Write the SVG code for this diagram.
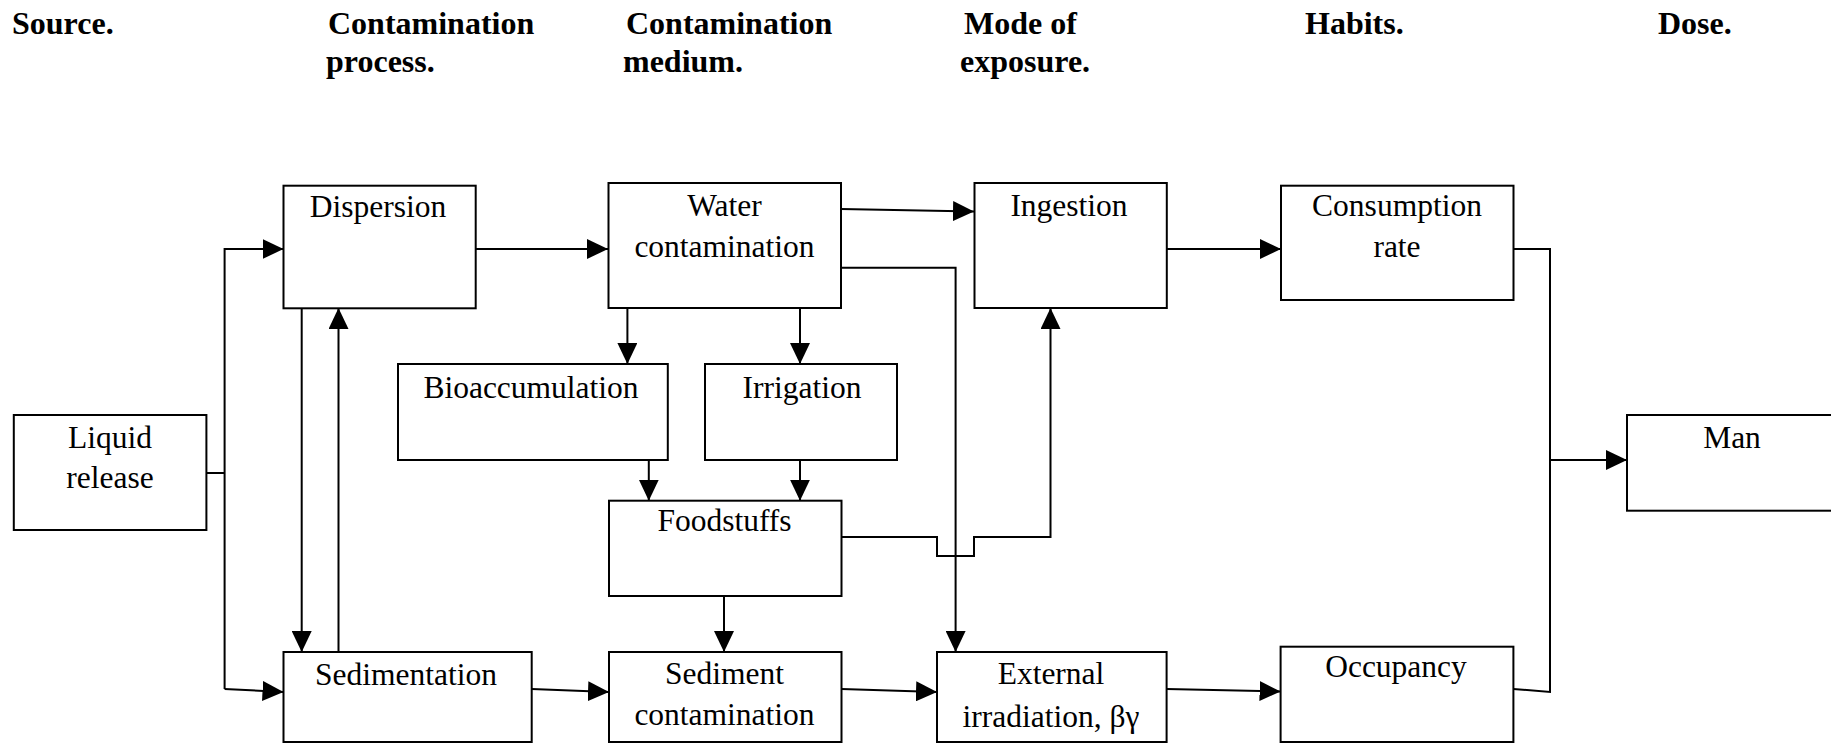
<svg xmlns="http://www.w3.org/2000/svg" width="1831" height="743" viewBox="0 0 1831 743">
<style>
.box{fill:#fff;stroke:#000;stroke-width:2}
.t{font-family:"Liberation Serif","Times New Roman",serif;font-size:31.5px;fill:#000;text-anchor:middle}
.h{font-family:"Liberation Serif","Times New Roman",serif;font-size:32px;font-weight:bold;fill:#000}
.c{fill:none;stroke:#000;stroke-width:2}
.a{marker-end:url(#ah)}
</style>
<defs>
<marker id="ah" markerUnits="userSpaceOnUse" markerWidth="21" markerHeight="20" refX="21" refY="10" orient="auto">
<path d="M0,0 L21,10 L0,20 z" fill="#000"/>
</marker>
</defs>
<rect width="1831" height="743" fill="#fff"/>
<g id="headers">
<text class="h" x="12" y="34">Source.</text>
<text class="h" x="328" y="34">Contamination</text>
<text class="h" x="326" y="72">process.</text>
<text class="h" x="626" y="34">Contamination</text>
<text class="h" x="623" y="72">medium.</text>
<text class="h" x="964" y="34">Mode of</text>
<text class="h" x="960" y="72">exposure.</text>
<text class="h" x="1305" y="34">Habits.</text>
<text class="h" x="1658" y="34">Dose.</text>
</g>
<g id="connectors">
<polyline class="c" points="206,473 224.6,473"/>
<polyline class="c a" points="224.6,689 224.6,249 283.5,249"/>
<polyline class="c a" points="224.6,689 283.5,692"/>
<polyline class="c a" points="475.7,249 608,249"/>
<polyline class="c a" points="301.7,305 301.7,652"/>
<polyline class="c a" points="338.5,652 338.5,308"/>
<polyline class="c a" points="841,209 974,211.5"/>
<polyline class="c a" points="841,267.7 955.6,267.7 955.6,652"/>
<polyline class="c a" points="627.4,305 627.4,364"/>
<polyline class="c a" points="800,305 800,364"/>
<polyline class="c a" points="648.8,460 648.8,500.7"/>
<polyline class="c a" points="800,460 800,500.7"/>
<polyline class="c a" points="841,537 937,537 937,556 974,556 974,537 1050.5,537 1050.5,308"/>
<polyline class="c a" points="724,593 724,652"/>
<polyline class="c a" points="531.7,689 609,692"/>
<polyline class="c a" points="841.5,689 937,692"/>
<polyline class="c a" points="1166.6,689 1280.6,691.5"/>
<polyline class="c a" points="1166.8,249 1281,249"/>
<polyline class="c" points="1513.5,249 1550,249 1550,692 1513.4,689"/>
<polyline class="c a" points="1550,460 1627,460"/>
</g>
<g id="liquid-release">
<rect class="box" x="13.8" y="415" width="192.6" height="115"/>
<text class="t" x="110" y="448">Liquid</text>
<text class="t" x="110" y="488">release</text>
</g>
<g id="dispersion">
<rect class="box" x="283.5" y="185.7" width="192.2" height="122.6"/>
<text class="t" x="378" y="216.7">Dispersion</text>
</g>
<g id="water-contamination">
<rect class="box" x="608.5" y="183" width="232.5" height="125"/>
<text class="t" x="724.5" y="215.7">Water</text>
<text class="t" x="724.5" y="256.7">contamination</text>
</g>
<g id="ingestion">
<rect class="box" x="974.5" y="183" width="192.3" height="125"/>
<text class="t" x="1069" y="215.7">Ingestion</text>
</g>
<g id="consumption-rate">
<rect class="box" x="1281" y="185.7" width="232.5" height="114.3"/>
<text class="t" x="1397" y="215.7">Consumption</text>
<text class="t" x="1397" y="256.7">rate</text>
</g>
<g id="bioaccumulation">
<rect class="box" x="398" y="364" width="269.8" height="96"/>
<text class="t" x="531" y="397.7">Bioaccumulation</text>
</g>
<g id="irrigation">
<rect class="box" x="705" y="364" width="192" height="96"/>
<text class="t" x="802" y="397.7">Irrigation</text>
</g>
<g id="foodstuffs">
<rect class="box" x="609" y="500.7" width="232.5" height="95.3"/>
<text class="t" x="724.5" y="530.7">Foodstuffs</text>
</g>
<g id="man">
<rect class="box" x="1627" y="415" width="220" height="95.7"/>
<text class="t" x="1732" y="448">Man</text>
</g>
<g id="sedimentation">
<rect class="box" x="283.5" y="652" width="248.2" height="90"/>
<text class="t" x="406" y="685">Sedimentation</text>
</g>
<g id="sediment-contamination">
<rect class="box" x="609" y="652" width="232.5" height="90"/>
<text class="t" x="724.5" y="684">Sediment</text>
<text class="t" x="724.5" y="725">contamination</text>
</g>
<g id="external-irradiation">
<rect class="box" x="937" y="652" width="229.6" height="90"/>
<text class="t" x="1051" y="684">External</text>
<text class="t" x="1051" y="726.7">irradiation, βγ</text>
</g>
<g id="occupancy">
<rect class="box" x="1280.6" y="646.7" width="232.8" height="95.3"/>
<text class="t" x="1396" y="676.7">Occupancy</text>
</g>
</svg>
